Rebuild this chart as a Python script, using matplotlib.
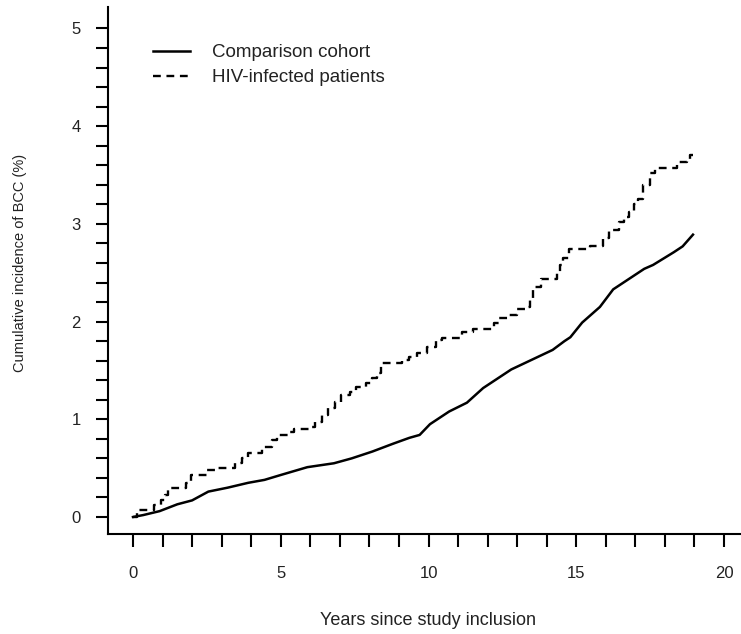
import matplotlib
matplotlib.use("Agg")
import matplotlib.pyplot as plt

plt.rcParams['font.family'] = ['Liberation Sans', 'DejaVu Sans']

# Comparison cohort (solid)
comp_years = [0.0, 0.35, 0.9, 1.5, 2.0, 2.55, 3.2, 3.9, 4.45, 5.0, 5.9, 6.8, 7.4,
              8.1, 8.8, 9.35, 9.7, 10.05, 10.7, 11.3, 11.85, 12.3, 12.8, 13.5,
              14.2, 14.6, 14.8, 15.2, 15.8, 16.25, 16.9, 17.3, 17.6, 18.3, 18.6, 18.95]
comp_inc = [0.00, 0.02, 0.06, 0.13, 0.17, 0.26, 0.30, 0.35, 0.38, 0.43, 0.51, 0.55, 0.60,
            0.67, 0.75, 0.81, 0.84, 0.95, 1.08, 1.17, 1.32, 1.41, 1.51, 1.61,
            1.71, 1.80, 1.84, 1.99, 2.15, 2.33, 2.46, 2.54, 2.58, 2.71, 2.77, 2.89]

# HIV-infected patients (dashed, step function)
hiv_years = [0.0, 0.15, 0.72, 0.95, 1.08, 1.18, 1.8, 1.95, 2.5, 2.85, 3.45, 3.7, 3.88,
             4.35, 4.7, 4.88, 5.25, 5.45, 5.95, 6.15, 6.4, 6.6, 6.85, 7.05, 7.35,
             7.55, 7.9, 8.1, 8.25, 8.4, 9.1, 9.35, 9.6, 9.95, 10.25, 10.45, 11.15,
             11.5, 12.2, 12.4, 12.7, 13.0, 13.35, 13.42, 13.55, 13.8, 14.35, 14.45,
             14.55, 14.75, 15.45, 15.9, 16.1, 16.45, 16.6, 16.8, 16.95, 17.1, 17.25,
             17.5, 17.65, 18.4, 18.75, 18.85, 18.95]
hiv_inc = [0.00, 0.07, 0.12, 0.17, 0.23, 0.30, 0.35, 0.43, 0.48, 0.50, 0.55, 0.60, 0.66,
           0.72, 0.79, 0.84, 0.87, 0.90, 0.92, 0.97, 1.04, 1.12, 1.18, 1.25, 1.28,
           1.33, 1.37, 1.42, 1.47, 1.58, 1.61, 1.64, 1.68, 1.74, 1.81, 1.83, 1.89,
           1.92, 1.99, 2.04, 2.07, 2.13, 2.15, 2.22, 2.35, 2.44, 2.50, 2.58,
           2.65, 2.74, 2.77, 2.86, 2.94, 3.02, 3.07, 3.12, 3.20, 3.25, 3.40,
           3.52, 3.57, 3.63, 3.66, 3.71, 3.71]

x_major = [0, 5, 10, 15, 20]
y_major = [0, 1, 2, 3, 4, 5]

fig = plt.figure(figsize=(7.41, 6.34), dpi=100)
ax = fig.add_axes([108/741, 1 - 534/634, (741 - 108)/741, (534 - 7)/634])

ax.plot(comp_years, comp_inc, color='black', lw=1.8, label='Comparison cohort')
ax.plot(hiv_years, hiv_inc, color='black', lw=1.7, drawstyle='steps-post',
        dashes=(3.3, 2.4), label='HIV-infected patients')

ax.set_xlim(-0.846, 20.575)
ax.set_ylim(-0.174, 5.22)

ax.set_xticks(x_major)
ax.set_xticks([i for i in range(0, 21)], minor=True)
ax.set_yticks(y_major)
ax.set_yticks([i * 0.2 for i in range(0, 26)], minor=True)

for s in ['top', 'right']:
    ax.spines[s].set_visible(False)
for s in ['left', 'bottom']:
    ax.spines[s].set_linewidth(1.5)

ax.tick_params(axis='x', which='both', direction='out', length=9.4, width=1.5,
               pad=14, labelsize=12, labelcolor='#222222')
ax.tick_params(axis='y', which='both', direction='out', length=8.6, width=1.5,
               pad=11, labelsize=12, labelcolor='#222222')

ax.set_xlabel('Years since study inclusion', fontsize=13, color='#222222')
ax.xaxis.set_label_coords(0.505, -0.148)
ax.set_ylabel('Cumulative incidence of BCC (%)', fontsize=10.5, color='#222222')
ax.yaxis.set_label_coords(-0.128, 0.514)

leg = ax.legend(loc='upper left', bbox_to_anchor=(153/741, 1 - 44/634),
                bbox_transform=fig.transFigure, frameon=False, fontsize=13.5,
                handlelength=1.95, handletextpad=1.2, labelspacing=0.42,
                borderpad=0, borderaxespad=0)
for t in leg.get_texts():
    t.set_color('#222222')

fig.savefig('out.png', dpi=100)
